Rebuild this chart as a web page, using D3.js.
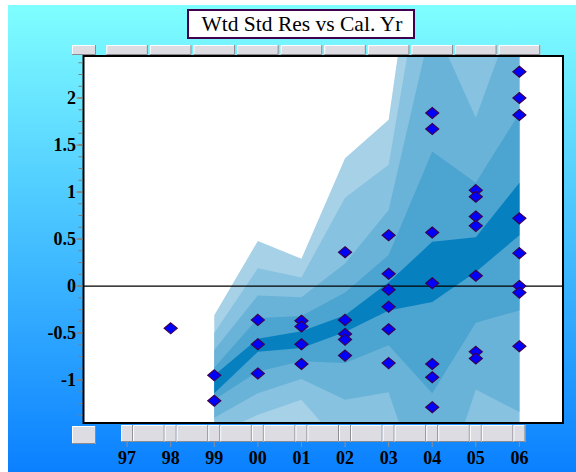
<!DOCTYPE html>
<html><head><meta charset="utf-8">
<script src="https://cdn.jsdelivr.net/npm/d3@7"></script>
<style>html,body{margin:0;padding:0;background:#fff;}svg{display:block;}</style>
</head><body>
<script>
// ---- data ----
const yearTicks = [1997,1998,1999,2000,2001,2002,2003,2004,2005,2006];
const tickLabels = ["97","98","99","00","01","02","03","04","05","06"];
const yTicks = [-1,-0.5,0,0.5,1,1.5,2];
const yTickLabels = ["-1","-0.5","0","0.5","1","1.5","2"];
const bandYears = [1999,2000,2001,2002,2003,2004,2005,2006];
const l1Hi = [-0.31, 0.48, 0.29, 1.36, 1.77, 5.0, 4.0, 4.5];
const l2Hi = [-0.50, 0.19, 0.09, 0.94, 1.29, 4.0, 3.0, 3.5];
const l3Hi = [-0.68,-0.10,-0.12, 0.24, 0.81, 2.82, 1.79, 3.06];
const l4Hi = [-0.87,-0.34,-0.32,-0.07, 0.33, 1.43, 1.10, 1.84];
const dkHi = [-0.95,-0.56,-0.48,-0.31, 0.04, 0.47, 0.52, 1.10];
const dkLo = [-1.14,-0.70,-0.66,-0.49,-0.26,-0.17, 0.15, 0.54];
const l4Lo = [-1.21,-0.91,-0.80,-0.82,-0.63,-1.14,-0.39,-0.26];
const l3Lo = [-1.40,-1.14,-0.99,-1.21,-1.13,-2.50,-1.10,-1.34];
const l2Lo = [-1.58,-1.37,-1.21,-1.74,-1.60,-3.00,-1.60,-1.80];
const l1Lo = [-1.77,-1.72,-1.44,-2.16,-2.00,-3.50,-2.20,-2.30];
const ptYears = [1998,1999,1999,2000,2000,2000,2001,2001,2001,2001,
  2002,2002,2002,2002,2002,2003,2003,2003,2003,2003,2003,
  2004,2004,2004,2004,2004,2004,2004,2005,2005,2005,2005,2005,2005,2005,
  2006,2006,2006,2006,2006,2006,2006,2006];
const ptValues = [-0.45,-0.95,-1.22,-0.36,-0.62,-0.93,-0.37,-0.43,-0.62,-0.83,
  0.36,-0.36,-0.51,-0.57,-0.74,0.54,0.13,-0.04,-0.22,-0.46,-0.82,
  1.84,1.67,0.57,0.03,-0.83,-0.97,-1.29,1.02,0.95,0.74,0.64,0.11,-0.70,-0.77,
  2.28,2.00,1.82,0.72,0.35,0.00,-0.07,-0.64];
const title = "Wtd Std Res vs Cal. Yr";

// ---- drawing ----
const W = 576, H = 472;
const svg = d3.select("body").append("svg").attr("width", W).attr("height", H);
const defs = svg.append("defs");
const grad = defs.append("linearGradient").attr("id","bg").attr("x1",0).attr("y1",0).attr("x2",0).attr("y2",1);
grad.append("stop").attr("offset","0%").attr("stop-color","#80ffff");
grad.append("stop").attr("offset","100%").attr("stop-color","#0a80ff");
svg.append("rect").attr("x",0).attr("y",0).attr("width",W).attr("height",H).attr("fill","#fff");
svg.append("rect").attr("x",8).attr("y",5).attr("width",W-8).attr("height",H-5).attr("fill","url(#bg)");

const x = d3.scaleLinear().domain([1996, 2007]).range([83.5, 563]);
const y = d3.scaleLinear().domain([-1.457, 2.447]).range([423, 56]);

// decorative button bars
function button(g, x0, y0, w, h) {
  g.append("rect").attr("x",x0).attr("y",y0).attr("width",w).attr("height",h).attr("fill","#dcdce2");
  g.append("path").attr("d",`M${x0+0.5},${y0+h}V${y0+0.5}H${x0+w}`).attr("stroke","#fff").attr("fill","none");
  g.append("path").attr("d",`M${x0+w-0.5},${y0}V${y0+h-0.5}H${x0}`).attr("stroke","#8a8a90").attr("fill","none");
}
const deco = svg.append("g");
button(deco, 72, 45, 24, 10);
for (let i = 0; i < 10; i++) {
  const a = x(1996.5 + i) + 1, b = x(1997.5 + i) - 1;
  button(deco, a, 45, b - a, 10);
}
button(deco, 72, 426, 24, 18);
for (let i = 0; i < yearTicks.length; i++) {
  const c = x(yearTicks[i]);
  button(deco, c - 6, 425, 12, 17);
  if (i < yearTicks.length - 1) {
    const a = c + 6, b = x(yearTicks[i+1]) - 6;
    button(deco, a, 425, b - a, 17);
  }
}

// plot area
svg.append("rect").attr("x",x(1996)).attr("y",y(2.447)).attr("width",x(2007)-x(1996)).attr("height",y(-1.457)-y(2.447)).attr("fill","#fff");
defs.append("clipPath").attr("id","clip").append("rect")
  .attr("x",x(1996)).attr("y",y(2.447)).attr("width",x(2007)-x(1996)).attr("height",y(-1.457)-y(2.447));
const plot = svg.append("g").attr("clip-path","url(#clip)");
const bands = [[l1Lo,l1Hi,"#a6d1e7"],[l2Lo,l2Hi,"#87c2e0"],[l3Lo,l3Hi,"#6ab3d8"],[l4Lo,l4Hi,"#4ca4d0"],[dkLo,dkHi,"#0780c0"]];
bands.forEach(([lo,hi,col]) => {
  const area = d3.area().x((d,i)=>x(bandYears[i])).y0((d,i)=>y(lo[i])).y1((d,i)=>y(hi[i]));
  plot.append("path").datum(bandYears).attr("d",area).attr("fill",col);
});
plot.append("line").attr("x1",x(1996)).attr("x2",x(2007)).attr("y1",y(0)).attr("y2",y(0)).attr("stroke","#000").attr("stroke-width",1.2);
plot.selectAll("path.pt").data(ptValues).enter().append("path").attr("class","pt")
  .attr("d","M0,-5.5L6.5,0L0,5.5L-6.5,0Z")
  .attr("transform",(d,i)=>`translate(${x(ptYears[i])},${y(d)})`)
  .attr("fill","#0000ff").attr("stroke","#3a0050").attr("stroke-width",1.2);

// border
svg.append("rect").attr("x",x(1996)).attr("y",y(2.447)).attr("width",x(2007)-x(1996)).attr("height",y(-1.457)-y(2.447))
  .attr("fill","none").attr("stroke","#000").attr("stroke-width",2);

// y axis ticks
const minor = d3.range(-1.375, 2.45, 0.125);
svg.append("g").selectAll("line").data(minor).enter().append("line")
  .attr("x1",x(1996)-5).attr("x2",x(1996)-1).attr("y1",d=>y(d)).attr("y2",d=>y(d)).attr("stroke","#8a7a70").attr("stroke-width",1);
svg.append("g").selectAll("line").data(yTicks).enter().append("line")
  .attr("x1",x(1996)-7).attr("x2",x(1996)-1).attr("y1",d=>y(d)).attr("y2",d=>y(d)).attr("stroke","#a07050").attr("stroke-width",1);
svg.append("g").selectAll("text").data(yTicks).enter().append("text")
  .attr("x",76).attr("y",d=>y(d)+6).attr("text-anchor","end")
  .attr("font-family","Liberation Serif, Times New Roman, serif").attr("font-weight","bold").attr("font-size",18)
  .text((d,i)=>yTickLabels[i]);

// x axis
svg.append("g").selectAll("line").data(yearTicks).enter().append("line")
  .attr("x1",d=>x(d)).attr("x2",d=>x(d)).attr("y1",442).attr("y2",447).attr("stroke","#909090");
svg.append("g").selectAll("text").data(yearTicks).enter().append("text")
  .attr("x",d=>x(d)).attr("y",464).attr("text-anchor","middle")
  .attr("font-family","Liberation Serif, Times New Roman, serif").attr("font-weight","bold").attr("font-size",18)
  .text((d,i)=>tickLabels[i]);

// title
svg.append("rect").attr("x",188).attr("y",10).attr("width",226).attr("height",28).attr("fill","#fff").attr("stroke","#400050").attr("stroke-width",2);
svg.append("text").attr("x",302).attr("y",31).attr("text-anchor","middle")
  .attr("font-family","Liberation Serif, Times New Roman, serif").attr("font-size",21.5).text(title);
</script>
</body></html>
